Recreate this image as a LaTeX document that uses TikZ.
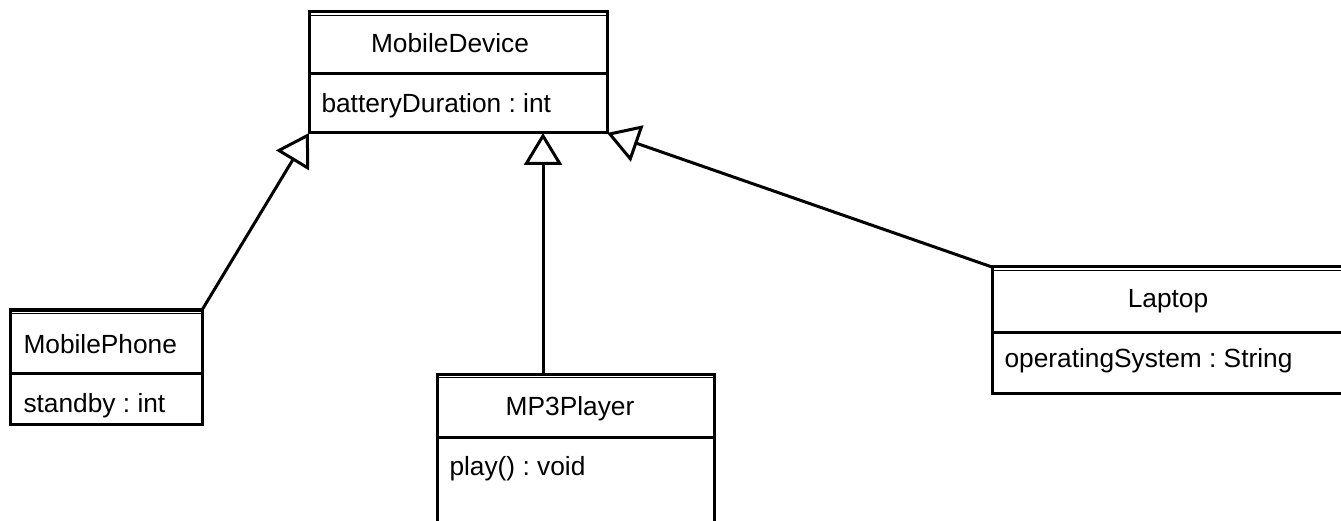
\documentclass[tikz,border=0pt]{standalone}
\usepackage{fontspec}
\setmainfont{Liberation Sans}
\usetikzlibrary{arrows.meta,calc}
\frenchspacing
\begin{document}
\begin{tikzpicture}[x=1pt,y=-1pt,line width=3pt,
  cls/.style={draw,rectangle,inner sep=0pt,outer sep=0pt,line width=3pt},
  txt/.style={inner sep=0pt,font=\fontsize{26.3}{30}\selectfont},
  gen/.style={-{Triangle[open,length=32pt,width=38pt]},line width=3pt,line join=miter},
  inner/.style={line width=1.3pt}]
\useasboundingbox (0,0) rectangle (1341,521);
\clip (0,0) rectangle (1341,521);
% MobileDevice
\node[cls,minimum width=298pt,minimum height=121pt] (MobileDevice) at (458,72.5) {};
\draw ($(MobileDevice.north west)+(0,62)$) -- ($(MobileDevice.north east)+(0,62)$);
\draw[inner] ($(MobileDevice.north west)+(0,3.6)$) -- ($(MobileDevice.north east)+(0,3.6)$);
\node[txt,anchor=base] (mdname) at (450,53) {MobileDevice};
\node[txt,anchor=base west] (mdattr) at (320,113) {batteryDuration : int};
% MobilePhone
\node[cls,minimum width=192pt,minimum height=114pt] (MobilePhone) at (106,367) {};
\draw ($(MobilePhone.north west)+(0,63)$) -- ($(MobilePhone.north east)+(0,63)$);
\draw[inner] ($(MobilePhone.north west)+(0,3.6)$) -- ($(MobilePhone.north east)+(0,3.6)$);
\node[txt,anchor=base west] (mpname) at (22,353) {MobilePhone};
\node[txt,anchor=base west] (mpattr) at (22,412) {standby : int};
% MP3Player
\node[cls,minimum width=277pt,minimum height=186pt] (MP3Player) at (575.5,467) {};
\draw ($(MP3Player.north west)+(0,63)$) -- ($(MP3Player.north east)+(0,63)$);
\draw[inner] ($(MP3Player.north west)+(0,3.6)$) -- ($(MP3Player.north east)+(0,3.6)$);
\node[txt,anchor=base] (mp3name) at (570,415) {MP3Player};
\node[txt,anchor=base west] (mp3op) at (448,475) {play() : void};
% Laptop
\node[cls,minimum width=353pt,minimum height=126pt] (Laptop) at (1168.5,330) {};
\draw ($(Laptop.north west)+(0,65)$) -- ($(Laptop.north east)+(0,65)$);
\draw[inner] ($(Laptop.north west)+(0,3.6)$) -- ($(Laptop.north east)+(0,3.6)$);
\node[txt,anchor=base] (lname) at (1168,308) {Laptop};
\node[txt,anchor=base west] (lattr) at (1003,367) {operatingSystem : String};
% generalizations
\draw[gen] (MobilePhone.north east) -- (MobileDevice.south west);
\draw[gen] ([xshift=-32.5pt]MP3Player.north) -- ([xshift=85pt]MobileDevice.south);
\draw[gen] (Laptop.north west) -- (MobileDevice.south east);
\end{tikzpicture}
\end{document}
